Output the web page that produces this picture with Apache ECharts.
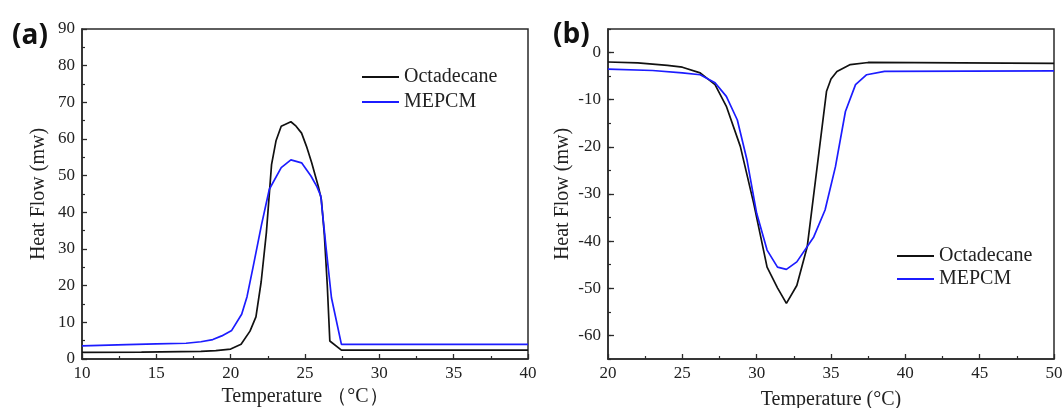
<!DOCTYPE html>
<html>
<head>
<meta charset="utf-8">
<script src="https://cdn.jsdelivr.net/npm/echarts@6/dist/echarts.min.js"></script>
<style>
html,body{margin:0;padding:0;background:#fff;}
#chart{width:1064px;height:408px;}
</style>
</head>
<body>
<div id="chart"></div>
<script>
// Panel (a): heating / melting curves
const tempA_oct = [10, 14, 18, 19, 20, 20.7, 21.3, 21.7, 22.05, 22.4, 22.75, 23.05, 23.4, 24.05, 24.4, 24.77, 25.1, 25.45, 25.9, 26.1, 26.3, 26.5, 26.67, 27.45, 40];
const heatA_oct = [1.8, 1.9, 2.1, 2.3, 2.7, 4.0, 7.6, 11.5, 21, 34.4, 53, 59.5, 63.5, 64.7, 63.5, 61.6, 58, 53.5, 47, 43.5, 34, 20, 4.9, 2.4, 2.4];
const tempA_mep = [10, 13, 15, 17, 18, 18.8, 19.4, 20.07, 20.74, 21.1, 21.5, 22.08, 22.6, 23.4, 24.05, 24.77, 25.4, 25.8, 26.06, 26.44, 26.78, 27.45, 40];
const heatA_mep = [3.6, 3.9, 4.1, 4.3, 4.7, 5.3, 6.3, 7.8, 12.2, 17, 24.9, 36.7, 46.3, 52.2, 54.3, 53.5, 49.9, 47, 44.5, 29.5, 16.7, 4.0, 4.0];
// Panel (b): cooling / crystallisation curves
const tempB_oct = [20, 22, 24, 25, 26.2, 27.2, 27.96, 28.9, 29.8, 30.7, 31.4, 32.0, 32.7, 33.4, 33.96, 34.7, 35.0, 35.4, 36.3, 37.5, 50];
const heatB_oct = [-2.0, -2.2, -2.7, -3.1, -4.3, -6.8, -11.4, -19.9, -32, -45.5, -49.9, -53.2, -49.4, -41.2, -27, -8.2, -5.6, -4.0, -2.55, -2.1, -2.3];
const tempB_mep = [20, 23, 25, 26.2, 27.2, 27.96, 28.7, 29.35, 30.0, 30.7, 31.4, 32.0, 32.7, 33.84, 34.6, 35.3, 35.97, 36.65, 37.4, 38.6, 50];
const heatB_mep = [-3.5, -3.8, -4.3, -4.7, -6.4, -9.3, -14.3, -22.8, -34.1, -41.9, -45.5, -46.0, -44.4, -39.1, -33.4, -24.2, -12.5, -6.8, -4.7, -4.0, -3.9];
const labelsB_y = [-60, -50, -40, -30, -20, -10, 0];
const seriesNames = ['Octadecane', 'MEPCM'];

const zip = (xs, ys) => xs.map((x, i) => [x, ys[i]]);
const SERIF = 'Liberation Serif, Times New Roman, serif';
const AX = '#2a2a2a';
const BLACK = '#111111';
const BLUE = '#1c1cff';
const TICK_FS = 17;
const NAME_FS = 20;

function xAxisCfg(gi, min, max, name, nameGap) {
  return {
    type: 'value', gridIndex: gi, min: min, max: max, interval: 5, position: 'bottom',
    name: name, nameLocation: 'middle', nameGap: nameGap,
    nameTextStyle: {fontFamily: SERIF, fontSize: NAME_FS, color: '#222'},
    axisLine: {show: true, onZero: false, lineStyle: {color: AX, width: 1.5}},
    axisTick: {show: true, inside: true, length: 5, lineStyle: {color: AX, width: 1.3}},
    minorTick: {show: true, splitNumber: 2, length: 3, lineStyle: {color: AX, width: 1.2}},
    axisLabel: {fontFamily: SERIF, fontSize: TICK_FS, color: '#222', margin: 6},
    splitLine: {show: false}
  };
}

const chart = echarts.init(document.getElementById('chart'), null, {renderer: 'canvas'});
const legendBase = {
  data: seriesNames, orient: 'vertical', icon: 'rect', itemWidth: 37, itemHeight: 2,
  textStyle: {fontFamily: SERIF, fontSize: 20, color: '#222'}
};
const option = {
  animation: false,
  backgroundColor: '#fff',
  title: [
    {text: '(a)', left: 7, top: 17, textStyle: {fontFamily: 'Open Sans, Noto Sans, sans-serif', fontWeight: 'bold', fontSize: 28, color: '#111'}},
    {text: '(b)', left: 548, top: 16, textStyle: {fontFamily: 'Open Sans, Noto Sans, sans-serif', fontWeight: 'bold', fontSize: 28, color: '#111'}}
  ],
  grid: [
    {left: 82, top: 29, width: 446, height: 330, outerBoundsMode: 'none', containLabel: false, show: true, borderColor: AX, borderWidth: 1.5, backgroundColor: 'transparent'},
    {left: 608, top: 29, width: 446, height: 330, outerBoundsMode: 'none', containLabel: false, show: true, borderColor: AX, borderWidth: 1.5, backgroundColor: 'transparent'}
  ],
  legend: [
    Object.assign({}, legendBase, {left: 357, top: 62, itemGap: 5}),
    Object.assign({}, legendBase, {left: 892, top: 241, itemGap: 3})
  ],
  xAxis: [
    xAxisCfg(0, 10, 40, 'Temperature \uFF08\u00B0C\uFF09', 24),
    xAxisCfg(1, 20, 50, 'Temperature (\u00B0C)', 31)
  ],
  yAxis: [
    {
      type: 'value', gridIndex: 0, min: 0, max: 90, interval: 10, position: 'left',
      name: 'Heat Flow (mw)', nameLocation: 'middle', nameGap: 33,
      nameTextStyle: {fontFamily: SERIF, fontSize: NAME_FS, color: '#222'},
      axisLine: {show: true, onZero: false, lineStyle: {color: AX, width: 1.5}},
      axisTick: {show: true, inside: true, length: 5, lineStyle: {color: AX, width: 1.3}},
      minorTick: {show: true, splitNumber: 2, length: 3, lineStyle: {color: AX, width: 1.2}},
      axisLabel: {fontFamily: SERIF, fontSize: TICK_FS, color: '#222', margin: 7},
      splitLine: {show: false}
    },
    {
      type: 'value', gridIndex: 1, min: -65, max: 5, interval: 5, position: 'left',
      name: 'Heat Flow (mw)', nameLocation: 'middle', nameGap: 35,
      nameTextStyle: {fontFamily: SERIF, fontSize: NAME_FS, color: '#222'},
      axisLine: {show: true, onZero: false, lineStyle: {color: AX, width: 1.5}},
      axisTick: {show: true, inside: true, length: 6, customValues: labelsB_y, lineStyle: {color: AX, width: 1.3}},
      axisLabel: {fontFamily: SERIF, fontSize: TICK_FS, color: '#222', margin: 7, customValues: labelsB_y},
      splitLine: {show: false}
    },
    {
      type: 'value', gridIndex: 1, min: -65, max: 5, interval: 5, position: 'left', offset: 0,
      axisLine: {show: false, onZero: false},
      axisTick: {show: true, inside: true, length: 3, lineStyle: {color: AX, width: 1.2}},
      axisLabel: {show: false},
      splitLine: {show: false}
    }
  ],
  series: [
    {name: 'Octadecane', type: 'line', xAxisIndex: 0, yAxisIndex: 0, data: zip(tempA_oct, heatA_oct), symbol: 'none', lineStyle: {color: BLACK, width: 1.7}, itemStyle: {color: BLACK}},
    {name: 'MEPCM', type: 'line', xAxisIndex: 0, yAxisIndex: 0, data: zip(tempA_mep, heatA_mep), symbol: 'none', lineStyle: {color: BLUE, width: 1.7}, itemStyle: {color: BLUE}},
    {name: 'Octadecane', type: 'line', xAxisIndex: 1, yAxisIndex: 1, data: zip(tempB_oct, heatB_oct), symbol: 'none', lineStyle: {color: BLACK, width: 1.7}, itemStyle: {color: BLACK}},
    {name: 'MEPCM', type: 'line', xAxisIndex: 1, yAxisIndex: 1, data: zip(tempB_mep, heatB_mep), symbol: 'none', lineStyle: {color: BLUE, width: 1.7}, itemStyle: {color: BLUE}}
  ]
};
chart.setOption(option);
</script>
</body>
</html>
